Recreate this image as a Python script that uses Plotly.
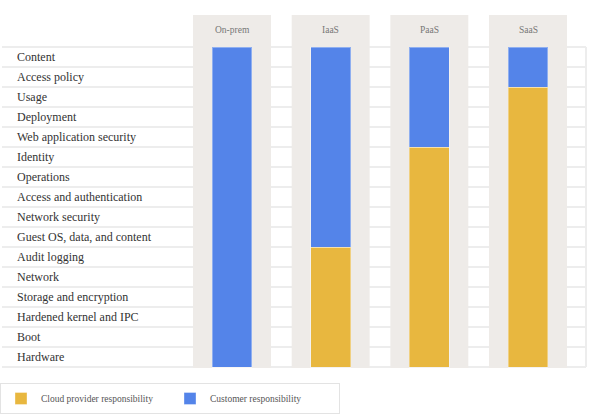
import plotly.graph_objects as go

# ---- data ----
models = ["On-prem", "IaaS", "PaaS", "SaaS"]
layers = [
    "Content", "Access policy", "Usage", "Deployment", "Web application security",
    "Identity", "Operations", "Access and authentication", "Network security",
    "Guest OS, data, and content", "Audit logging", "Network", "Storage and encryption",
    "Hardened kernel and IPC", "Boot", "Hardware",
]
provider_layers = [0, 6, 11, 14]     # layers managed by the cloud provider (from bottom)
customer_layers = [16, 10, 5, 2]     # layers managed by the customer (on top)

BLUE = "#5484e9"
YELLOW = "#e8b73f"
COLBG = "#eeebe8"
LINE = "#ededed"
FONT = "Liberation Serif"

fig = go.Figure()
fig.add_trace(go.Bar(
    x=models, y=provider_layers, name="Cloud provider responsibility",
    marker=dict(color=YELLOW, line=dict(color="rgba(255,255,255,0.35)", width=1)),
    width=0.405, hoverinfo="skip",
))
fig.add_trace(go.Bar(
    x=models, y=customer_layers, name="Customer responsibility",
    marker=dict(color=BLUE, line=dict(color="rgba(255,255,255,0.35)", width=1)),
    width=0.405, hoverinfo="skip",
))

n = len(layers)
shapes = []
# row separator lines
for k in range(n + 1):
    shapes.append(dict(type="line", xref="paper", yref="y", x0=2 / 600, x1=586 / 600,
                       y0=k, y1=k, line=dict(color=LINE, width=2), layer="below"))
shapes.append(dict(type="line", xref="paper", yref="y", x0=586 / 600, x1=586 / 600,
                   y0=0, y1=n, line=dict(color=LINE, width=2), layer="below"))
# column backgrounds
for i, m in enumerate(models):
    shapes.append(dict(type="rect", xref="x", yref="y", x0=i - 0.395, x1=i + 0.395,
                       y0=-0.05, y1=n + 1.6, fillcolor=COLBG, line=dict(width=0),
                       layer="below"))

annotations = []
for j, lab in enumerate(layers):
    annotations.append(dict(text=lab, xref="paper", yref="y", x=14.5 / 600, y=n - 0.5 - j,
                            xanchor="left", yanchor="middle", showarrow=False,
                            font=dict(family=FONT, size=12, color="#333333")))
for m in models:
    annotations.append(dict(text=m, xref="x", yref="y", x=m, y=n + 0.85,
                            xanchor="center", yanchor="middle", showarrow=False,
                            font=dict(family=FONT, size=9.5, color="#777777")))

spacing = (528 - 232) / 3
fig.update_layout(
    width=600, height=415,
    margin=dict(l=0, r=0, t=0, b=0),
    paper_bgcolor="white", plot_bgcolor="white",
    barmode="stack",
    xaxis=dict(type="category", categoryorder="array", categoryarray=models,
               range=[-232 / spacing, 3 + (600 - 528) / spacing],
               showticklabels=False, showgrid=False, zeroline=False, showline=False,
               fixedrange=True),
    yaxis=dict(range=[-2.4, 18.35], showticklabels=False, showgrid=False,
               zeroline=False, showline=False, fixedrange=True),
    shapes=shapes,
    annotations=annotations,
    showlegend=True,
    legend=dict(orientation="h", x=0, y=(415 - 383) / 415, xanchor="left",
                yanchor="top", bordercolor="#e3e3e3", borderwidth=1,
                bgcolor="white", entrywidth=124, entrywidthmode="pixels",
                font=dict(family=FONT, size=9.5, color="#555555"),
                traceorder="normal"),
    font=dict(family=FONT),
)

fig.write_html("out.html", config={"displayModeBar": False},
               post_script="document.body.style.margin='0';")
